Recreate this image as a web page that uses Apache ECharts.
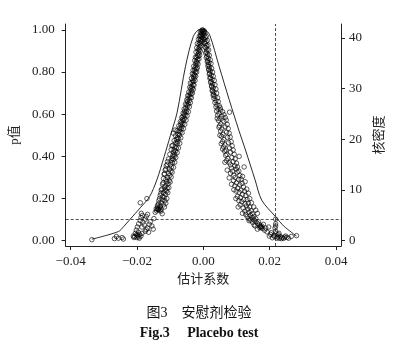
<!DOCTYPE html>
<html><head><meta charset="utf-8">
<script src="https://cdn.jsdelivr.net/npm/echarts@6/dist/echarts.min.js"></script>
<style>html,body{margin:0;padding:0;background:#fff}#c{width:398px;height:349px}</style>
</head><body><div id="c"></div>
<script>
// tick labels
const xTicks = [-0.04, -0.02, 0, 0.02, 0.04];
const pTicks = [0, 0.2, 0.4, 0.6, 0.8, 1.0];
const densTicks = [0, 10, 20, 30, 40];
// reference lines
const pThreshold = 0.1;
const trueCoef = 0.0218;
// placebo estimates: [coefficient, p-value], left branch (negative coefficients)
const leftBranch = [
[-0.0003,1.00],[-0.0005,0.995],[-0.0002,0.99],[-0.0006,0.985],[-0.0004,0.98],[-0.0008,0.975],[-0.0007,0.97],[-0.001,0.96],[-0.0006,0.955],[-0.0009,0.95],[-0.0012,0.94],[-0.0008,0.935],[-0.0013,0.93],[-0.0011,0.92],[-0.0015,0.91],[-0.0012,0.905],[-0.0016,0.9],[-0.0014,0.89],[-0.0018,0.88],[-0.0015,0.875],[-0.002,0.87],[-0.0017,0.86],[-0.0021,0.85],[-0.0019,0.845],[-0.0023,0.84],[-0.0022,0.83],[-0.0025,0.82],[-0.0021,0.815],[-0.0026,0.81],[-0.0024,0.8],[-0.0028,0.79],[-0.0026,0.785],[-0.003,0.78],[-0.0028,0.77],[-0.0032,0.76],[-0.003,0.755],[-0.0034,0.75],[-0.0031,0.74],[-0.0036,0.73],[-0.0033,0.725],[-0.0038,0.72],[-0.0035,0.71],[-0.004,0.70],[-0.0037,0.695],[-0.0043,0.69],[-0.004,0.68],[-0.0046,0.675],[-0.0042,0.665],[-0.0048,0.66],[-0.0045,0.65],[-0.005,0.645],[-0.0047,0.64],[-0.0053,0.63],[-0.005,0.62],[-0.0056,0.615],[-0.0052,0.61],[-0.0058,0.60],[-0.0055,0.595],[-0.0061,0.59],[-0.0057,0.58],[-0.0063,0.575],[-0.006,0.57],[-0.0066,0.56],[-0.0062,0.555],[-0.0068,0.55],[-0.0065,0.54],[-0.0071,0.535],[-0.0067,0.53],[-0.0085,0.525],[-0.0073,0.52],[-0.007,0.515],[-0.009,0.51],[-0.0076,0.505],[-0.0072,0.5],[-0.0078,0.49],[-0.0075,0.485],[-0.0081,0.48],[-0.0077,0.47],[-0.0083,0.465],[-0.0079,0.46],[-0.0095,0.45],[-0.0085,0.445],[-0.0081,0.44],[-0.0088,0.43],[-0.0084,0.425],[-0.009,0.42],[-0.0086,0.41],[-0.0092,0.405],[-0.0088,0.40],[-0.0094,0.39],[-0.009,0.385],[-0.0097,0.38],[-0.0108,0.375],[-0.0093,0.37],[-0.0099,0.36],[-0.0112,0.355],[-0.0096,0.35],[-0.0102,0.34],[-0.0115,0.335],[-0.0098,0.33],[-0.0104,0.32],[-0.0118,0.315],[-0.0101,0.31],[-0.0107,0.30],[-0.0113,0.29],[-0.0103,0.285],[-0.011,0.28],[-0.0121,0.275],[-0.0106,0.27],[-0.0113,0.26],[-0.0117,0.255],[-0.0109,0.25],[-0.0125,0.245],[-0.0115,0.24],[-0.0111,0.235],[-0.012,0.23],[-0.0128,0.225],[-0.0114,0.22],[-0.0122,0.21],[-0.0118,0.205],[-0.0132,0.2],[-0.0124,0.195],[-0.0116,0.19],[-0.0127,0.18],[-0.0135,0.175],[-0.012,0.17],[-0.013,0.165],[-0.0138,0.16],[-0.0133,0.155],[-0.0127,0.15],[-0.0135,0.148],[-0.0131,0.145],[-0.0141,0.142],[-0.0128,0.14],[-0.0145,0.135],[-0.017,0.20],[-0.019,0.18],[-0.0187,0.13],[-0.0184,0.12],[-0.0188,0.11],[-0.0149,0.105],[-0.019,0.095],[-0.0182,0.088],[-0.016,0.09],[-0.0195,0.08],[-0.0163,0.078],[-0.0178,0.075],[-0.0155,0.07],[-0.0199,0.065],[-0.0168,0.06],[-0.0151,0.055],[-0.0202,0.05],[-0.0175,0.045],[-0.0165,0.04],[-0.0205,0.035],[-0.0192,0.03],[-0.0198,0.025],[-0.0207,0.02],[-0.0188,0.022],[-0.0195,0.018],[-0.0209,0.015],[-0.0193,0.012],[-0.0262,0.02],[-0.0256,0.012],[-0.0268,0.01],[-0.0245,0.015],[-0.0241,0.008],[-0.0336,0.005],
[-0.0001,0.998],[-0.0009,0.99],[0.0001,0.985],[-0.0012,0.97],[-0.0003,0.965],[-0.0015,0.955],[-0.0004,0.945],
[-0.0018,0.935],[-0.0007,0.925],[-0.002,0.915],[-0.0009,0.9],[-0.0022,0.895],[-0.0011,0.88],[-0.0024,0.87],[-0.0013,0.862],[-0.0026,0.855],
[-0.0016,0.838],[-0.0029,0.828],[-0.0018,0.82],[-0.0031,0.808],[-0.002,0.8],[-0.0033,0.792],[-0.0023,0.78],[-0.0036,0.77],[-0.0025,0.76],[-0.0039,0.748],[-0.0028,0.738],[-0.0041,0.728],[-0.003,0.718],[-0.0044,0.705],[-0.0033,0.7],
[-0.0047,0.688],[-0.0036,0.678],[-0.005,0.668],[-0.0039,0.655],[-0.0054,0.648],[-0.0042,0.635],[-0.0058,0.625],[-0.0045,0.612],[-0.0061,0.605],[-0.0049,0.592],[-0.0065,0.585],[-0.0052,0.572],[-0.0069,0.565],[-0.0056,0.552],
[-0.0074,0.545],[-0.006,0.532],[-0.0079,0.522],[-0.0064,0.512],[-0.0084,0.498],[-0.0068,0.488],[-0.0088,0.475],[-0.0071,0.462],[-0.0092,0.452],[-0.0075,0.44],[-0.0097,0.432],[-0.0079,0.418],[-0.0101,0.41],
[-0.0083,0.395],[-0.0105,0.388],[-0.0086,0.372],[-0.0109,0.362],[-0.009,0.348],[-0.0113,0.34],[-0.0094,0.325],[-0.0117,0.318],[-0.0097,0.302],[-0.012,0.295],[-0.01,0.278],[-0.0123,0.268],
[-0.0104,0.252],[-0.0127,0.24],[-0.0107,0.228],[-0.013,0.215],[-0.011,0.2],[-0.0134,0.19],[-0.0113,0.178],[-0.0138,0.168],[-0.0117,0.16],[-0.0142,0.152],[-0.0124,0.128],[-0.0136,0.148],[-0.0139,0.15],
[-0.0172,0.115],[-0.0168,0.125],[-0.0175,0.102],[-0.0185,0.065],[-0.0172,0.052],[-0.0201,0.028],[-0.0196,0.04],[-0.0185,0.035],[-0.0211,0.022],[-0.02,0.015]
];
// right branch (positive coefficients)
const rightBranch = [
[0.0003,0.995],[0.0005,0.985],[0.0002,0.975],[0.0006,0.965],[0.0004,0.955],[0.0008,0.945],[0.0006,0.935],[0.001,0.925],[0.0008,0.915],[0.0011,0.905],[0.0009,0.895],[0.0013,0.885],[0.0011,0.875],[0.0015,0.865],[0.0013,0.855],[0.0017,0.845],[0.0015,0.835],[0.0019,0.825],[0.0017,0.815],[0.0021,0.805],[0.0019,0.795],[0.0024,0.785],[0.0021,0.775],[0.0026,0.765],[0.0023,0.755],[0.0028,0.745],[0.0025,0.735],[0.003,0.725],[0.0027,0.715],[0.0032,0.705],[0.003,0.695],[0.0035,0.685],[0.0032,0.675],[0.0038,0.665],[0.0035,0.655],[0.0041,0.645],[0.0038,0.635],[0.0044,0.625],[0.0052,0.62],[0.004,0.615],[0.0047,0.605],[0.0079,0.61],[0.0043,0.595],[0.0056,0.59],[0.005,0.58],[0.0046,0.57],[0.0062,0.565],[0.0053,0.555],[0.0049,0.545],[0.0066,0.54],[0.0056,0.53],[0.0052,0.52],[0.007,0.515],[0.0059,0.505],[0.0055,0.495],[0.0073,0.49],[0.0062,0.48],[0.0058,0.47],[0.0076,0.465],[0.0065,0.455],[0.0061,0.445],[0.0079,0.44],[0.0068,0.43],[0.0064,0.425],[0.0082,0.42],[0.0071,0.41],[0.0067,0.405],[0.0108,0.40],[0.0086,0.395],[0.0074,0.39],[0.007,0.38],[0.009,0.375],[0.0078,0.37],[0.0082,0.36],[0.0095,0.355],[0.0123,0.35],[0.0085,0.345],[0.0099,0.34],[0.0088,0.33],[0.0102,0.325],[0.0082,0.32],[0.0092,0.31],[0.0118,0.305],[0.0096,0.3],[0.0106,0.29],[0.0091,0.285],[0.0126,0.28],[0.01,0.275],[0.011,0.265],[0.0095,0.26],[0.0104,0.25],[0.0131,0.245],[0.0114,0.24],[0.0099,0.235],[0.0108,0.23],[0.0136,0.225],[0.0118,0.22],[0.0103,0.21],[0.0112,0.205],[0.014,0.2],[0.0122,0.195],[0.0107,0.19],[0.0116,0.185],[0.0145,0.18],[0.0126,0.175],[0.0111,0.17],[0.013,0.165],[0.0152,0.16],[0.012,0.155],[0.0134,0.15],[0.0158,0.145],[0.0125,0.14],[0.0138,0.135],[0.0163,0.13],[0.0128,0.125],[0.0142,0.12],[0.0132,0.115],[0.0147,0.11],[0.0137,0.105],[0.0152,0.1],[0.0143,0.098],[0.0218,0.102],[0.0158,0.092],[0.0148,0.088],[0.0163,0.082],[0.0169,0.075],[0.0156,0.07],[0.0172,0.068],[0.0175,0.064],[0.0173,0.066],[0.0197,0.065],[0.0218,0.07],[0.0216,0.06],[0.0178,0.058],[0.0185,0.05],[0.0163,0.055],[0.0205,0.038],[0.0219,0.033],[0.0212,0.025],[0.0226,0.028],[0.0232,0.02],[0.0224,0.018],[0.0238,0.015],[0.0245,0.017],[0.0252,0.016],[0.0265,0.02],[0.0229,0.012],[0.0235,0.01],[0.0281,0.024],[0.0199,0.022],[0.0208,0.014],[0.0218,0.045],
[0.0001,0.99],[0.0009,0.97],[-0.0001,0.96],[0.0012,0.95],[0.0003,0.94],[0.0014,0.928],[0.0005,0.918],[0.0016,0.905],[0.0007,0.89],[0.0018,0.88],[0.0009,0.868],[0.0021,0.858],[0.0012,0.848],[0.0023,0.84],[0.0014,0.828],[0.0025,0.818],[0.0016,0.81],[0.0028,0.8],[0.0018,0.79],[0.003,0.78],[0.002,0.77],[0.0033,0.76],[0.0022,0.75],[0.0035,0.74],[0.0025,0.73],[0.0038,0.72],[0.0027,0.71],[0.004,0.70],[0.003,0.688],[0.0043,0.678],[0.0045,0.66],[0.0048,0.64],[0.0051,0.63],[0.0058,0.612],[0.0062,0.598],[0.0066,0.585],[0.0042,0.58],[0.0069,0.572],[0.0072,0.552],[0.0047,0.538],[0.0075,0.532],[0.0078,0.51],[0.005,0.5],[0.0081,0.492],[0.0084,0.47],[0.0054,0.46],[0.0087,0.45],[0.009,0.43],[0.0058,0.435],[0.0093,0.41],[0.0096,0.388],[0.0065,0.372],[0.01,0.368],[0.0103,0.35],[0.0072,0.335],[0.0107,0.33],[0.011,0.31],[0.0078,0.298],[0.0114,0.292],[0.0117,0.272],[0.0085,0.268],[0.0121,0.255],[0.0124,0.235],[0.0092,0.242],[0.0128,0.215],[0.0132,0.195],[0.0098,0.2],[0.0136,0.178],[0.014,0.16],[0.0105,0.16],[0.0144,0.142],[0.0148,0.128],[0.0118,0.13],[0.0152,0.115],[0.0138,0.095],[0.0158,0.105],[0.0166,0.09],[0.0153,0.075],[0.0176,0.07],[0.017,0.062],[0.0181,0.078],[0.0188,0.06],[0.0192,0.042],[0.0203,0.03],[0.0215,0.02],[0.0222,0.012],[0.0242,0.011],[0.0257,0.012],[0.0248,0.022],[0.0228,0.035],[0.0218,0.08]
];
// kernel density of coefficients: [coefficient, density]
const density = [
[-0.0336,0.3],[-0.0256,1.8],[-0.024,2.8],[-0.0221,4.2],[-0.019,6.5],[-0.0162,8.7],[-0.014,12],[-0.0118,16.6],[-0.0099,20.8],[-0.0079,25.3],[-0.0054,34.3],[-0.003,40.3],[-0.001,41.7],[0.0005,41.6],[0.0019,40.6],[0.0048,34.3],[0.0078,27.8],[0.0107,21.8],[0.0127,17.9],[0.0156,12],[0.0176,8],[0.0218,4.7],[0.0244,2.8],[0.0281,0.9]
];

const serif = '"Liberation Serif","Times New Roman",serif';
const cjk = '"Liberation Serif","Noto Sans CJK SC",serif';
const axisCol = '#222';
const chart = echarts.init(document.getElementById('c'), null, {renderer:'canvas'});
const fmtX = v => { if (Math.abs(v) < 1e-9) return '0.00'; return (v < 0 ? '\u2212' : '') + Math.abs(v).toFixed(2); };
chart.setOption({
  animation: false,
  backgroundColor: '#fff',
  title: [
    {text: '图3\u3000安慰剂检验', left: 'center', top: 301, textStyle: {fontFamily: cjk, fontSize: 14, fontWeight: 'normal', color: '#111'}},
    {text: 'Fig.3\u2003 Placebo test', left: 'center', top: 321, textStyle: {fontFamily: serif, fontSize: 14, fontWeight: 'bold', color: '#111'}}
  ],
  grid: {left: 59, right: 57, top: 24, bottom: 103},
  xAxis: {
    type: 'value', min: -0.0415, max: 0.0415,
    name: '估计系数', nameLocation: 'middle', nameGap: 22,
    nameTextStyle: {fontFamily: cjk, fontSize: 13, color: '#222'},
    axisLine: {show: true, onZero: false, lineStyle: {color: axisCol, width: 1}},
    axisTick: {show: true, length: 4, inside: false, customValues: xTicks, lineStyle: {color: axisCol}},
    axisLabel: {customValues: xTicks, formatter: fmtX, fontFamily: serif, fontSize: 13, color: '#222', margin: 9},
    splitLine: {show: false}
  },
  yAxis: [
    {
      type: 'value', min: -0.025, max: 1.028, position: 'left',
      name: 'p值', nameLocation: 'middle', nameGap: 36, nameRotate: 90,
      nameTextStyle: {fontFamily: cjk, fontSize: 13, color: '#222'},
      axisLine: {show: true, onZero: false, lineStyle: {color: axisCol, width: 1}},
      axisTick: {show: true, length: 4, customValues: pTicks, lineStyle: {color: axisCol}},
      axisLabel: {customValues: pTicks, formatter: v => v.toFixed(2), fontFamily: serif, fontSize: 13, color: '#222', margin: 11},
      splitLine: {show: false}
    },
    {
      type: 'value', min: -1.045, max: 42.74, position: 'right',
      name: '核密度', nameLocation: 'middle', nameGap: 21, nameRotate: 90,
      nameTextStyle: {fontFamily: cjk, fontSize: 13, color: '#222'},
      axisLine: {show: true, onZero: false, lineStyle: {color: axisCol, width: 1}},
      axisTick: {show: true, length: 4, customValues: densTicks, lineStyle: {color: axisCol}},
      axisLabel: {customValues: densTicks, fontFamily: serif, fontSize: 13, color: '#222', margin: 8},
      splitLine: {show: false}
    }
  ],
  series: [
    {
      type: 'line', yAxisIndex: 1, data: density, smooth: 0.3, symbol: 'none',
      lineStyle: {color: '#111', width: 0.9}, z: 3
    },
    {
      type: 'scatter', yAxisIndex: 0, data: leftBranch.concat(rightBranch),
      symbol: 'circle', symbolSize: 4.5,
      itemStyle: {color: 'rgba(255,255,255,0)', borderColor: '#000', borderWidth: 0.8},
      z: 4,
      markLine: {
        silent: true, symbol: 'none', label: {show: false}, precision: 5,
        lineStyle: {color: '#222', type: [3, 2], width: 0.8},
        data: [{yAxis: pThreshold}, {xAxis: trueCoef}]
      }
    }
  ]
});
</script></body></html>
